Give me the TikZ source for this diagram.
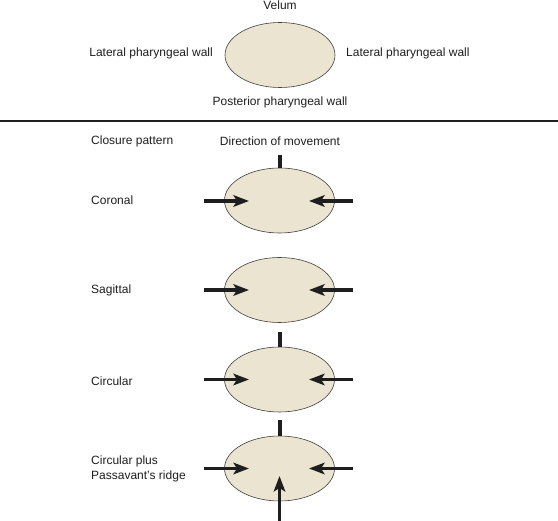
\documentclass[tikz,border=0pt]{standalone}
\usepackage{fontspec}
\setmainfont{Liberation Sans}
\usetikzlibrary{arrows.meta, positioning, shapes.geometric}
\definecolor{wallbeige}{HTML}{EBE4D1}
\definecolor{inkdark}{HTML}{1E1E1E}
\tikzset{
  wallnode/.style={ellipse,draw=inkdark!85,line width=0.6pt,fill=wallbeige,minimum width=110pt,minimum height=65pt,inner sep=0pt},
  txtnode/.style={inner sep=0pt,font=\fontsize{12}{15}\selectfont,text=inkdark},
  rowlabel/.style={txtnode,anchor=west,align=left},
  pushedge/.style={-{Stealth[length=15.5pt,width=11.5pt,inset=3.5pt]},line width=3.6pt,inkdark},
  baredge/.style={line width=4pt,inkdark},
  ruleline/.style={line width=1.4pt,inkdark},
}

\begin{document}
\begin{tikzpicture}[x=1pt,y=-1pt]
  \useasboundingbox (0,0) rectangle (558,521);
  % key: which wall is where
  \node[wallnode] (ovalKey) at (280,55) {};
  \node[txtnode] (lblVelum) at (280,5) {Velum};
  \node[txtnode,anchor=east] (lblLatL) at (213,53) {Lateral pharyngeal wall};
  \node[txtnode,anchor=west] (lblLatR) at (346,53) {Lateral pharyngeal wall};
  \node[txtnode] (lblPost) at (280,102) {Posterior pharyngeal wall};
  \coordinate (ruleL) at (0,121);
  \coordinate (ruleR) at (558,121);
  \draw[ruleline] (ruleL) -- (ruleR);
  % column heads
  \node[rowlabel] (hdPattern) at (91,141) {Closure pattern};
  \node[txtnode] (hdDirection) at (280,141) {Direction of movement};
  % closure patterns
  \node[wallnode] (ovalCor) at (279.5,200.5) {};
  \node[wallnode] (ovalSag) at (279.5,290) {};
  \node[wallnode] (ovalCir) at (279.5,379.5) {};
  \node[wallnode] (ovalPas) at (279.5,468.5) {};
  \node[rowlabel] (lblCor) at (91,200) {Coronal};
  \node[rowlabel] (lblSag) at (91,290) {Sagittal};
  \node[rowlabel] (lblCir) at (91,381) {Circular};
  \node[rowlabel] (lblPas) at (91,469) {Circular plus\\Passavant's ridge};
  % coronal
  \coordinate (corTop) at (279.5,155);
  \coordinate (corL) at (204,201);
  \coordinate (corLtip) at (249,201);
  \coordinate (corR) at (353,201);
  \coordinate (corRtip) at (309,201);
  \draw[baredge] (corTop) -- (ovalCor.north);
  \draw[pushedge] (corL) -- (corLtip);
  \draw[pushedge] (corR) -- (corRtip);
  % sagittal
  \coordinate (sagL) at (204,290);
  \coordinate (sagLtip) at (249,290);
  \coordinate (sagR) at (353,290);
  \coordinate (sagRtip) at (309,290);
  \draw[pushedge] (sagL) -- (sagLtip);
  \draw[pushedge] (sagR) -- (sagRtip);
  % circular
  \coordinate (cirTop) at (279.5,332);
  \coordinate (cirL) at (204,379.5);
  \coordinate (cirLtip) at (249,379.5);
  \coordinate (cirR) at (353,379.5);
  \coordinate (cirRtip) at (309,379.5);
  \draw[baredge] (cirTop) -- (ovalCir.north);
  \draw[pushedge] (cirL) -- (cirLtip);
  \draw[pushedge] (cirR) -- (cirRtip);
  % circular plus Passavant's ridge
  \coordinate (pasTop) at (279.5,420);
  \coordinate (pasL) at (204,468.5);
  \coordinate (pasLtip) at (249,468.5);
  \coordinate (pasR) at (353,468.5);
  \coordinate (pasRtip) at (309,468.5);
  \coordinate (pasB) at (279.5,521);
  \coordinate (pasBtip) at (279.5,476);
  \draw[baredge] (pasTop) -- (ovalPas.north);
  \draw[pushedge] (pasL) -- (pasLtip);
  \draw[pushedge] (pasR) -- (pasRtip);
  \draw[pushedge] (pasB) -- (pasBtip);
\end{tikzpicture}
\end{document}
